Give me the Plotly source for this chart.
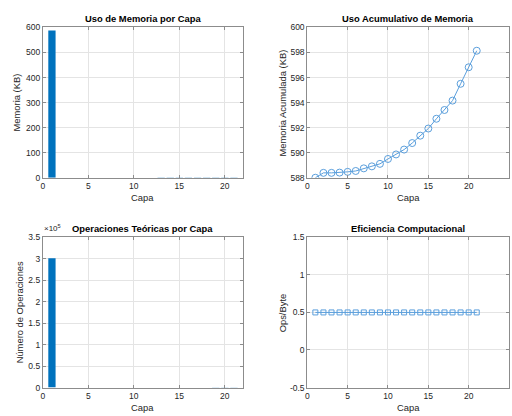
import numpy as np
import plotly.graph_objects as go

# Per-layer statistics of the network
capas = list(range(1, 22))
memoria_kb = [588.0, 0.39, 0.0, 0.02, 0.06, 0.07, 0.21, 0.16, 0.20, 0.39, 0.36,
              0.39, 0.52, 0.59, 0.57, 0.78, 0.70, 0.75, 1.34, 1.32, 1.32]
operaciones = [301056, 200, 0, 10, 31, 36, 108, 82, 102, 200, 184,
               200, 266, 302, 292, 399, 358, 384, 686, 676, 676]
ops_por_byte = [0.5] * 21
memoria_acumulada = np.cumsum(memoria_kb)

ops_ticks = [0, 0.5e5, 1e5, 1.5e5, 2e5, 2.5e5, 3e5, 3.5e5]
ops_ticktext = ["0", "0.5", "1", "1.5", "2", "2.5", "3", "3.5"]

W, H = 512, 416
# near-opaque fill so sub-pixel bars are rounded away instead of widened to 1px
BAR = "rgba(0,114,189,0.999)"
LINE = "#5B9FDC"
AX = "#8C8C8C"
GRID = "#E4E4E4"
TXT = "#262626"
FONT = "Liberation Sans, Arial, sans-serif"
TICK_SIZE = 8.5
LABEL_SIZE = 9.4


def px(x):
    return x / W


def py(y):
    return 1 - y / H


# axes boxes in pixels: (left, right, top, bottom)
boxes = {
    1: (41, 242, 23, 177),
    2: (306.5, 509, 23, 177),
    3: (41, 242, 238, 392),
    4: (306.5, 509, 238, 392),
}

fig = go.Figure()

fig.add_trace(go.Bar(x=capas, y=memoria_kb, width=0.8, marker=dict(color=BAR, line=dict(width=0)),
                     xaxis="x", yaxis="y"))
fig.add_trace(go.Scatter(x=capas, y=memoria_acumulada, mode="lines+markers",
                         line=dict(color=LINE, width=1),
                         marker=dict(symbol="circle-open", size=7, color=LINE, line=dict(width=1)),
                         xaxis="x2", yaxis="y2"))
fig.add_trace(go.Bar(x=capas, y=operaciones, width=0.8, marker=dict(color=BAR, line=dict(width=0)),
                     xaxis="x3", yaxis="y3"))
fig.add_trace(go.Scatter(x=capas, y=ops_por_byte, mode="lines+markers",
                         line=dict(color=LINE, width=1),
                         marker=dict(symbol="square-open", size=5, color=LINE, line=dict(width=1)),
                         xaxis="x4", yaxis="y4"))

common = dict(showline=True, mirror="ticks", linecolor=AX, linewidth=1, ticks="inside", ticklen=3,
              tickcolor=AX, showgrid=True, gridcolor=GRID, gridwidth=1, zeroline=False,
              tickfont=dict(family=FONT, size=TICK_SIZE, color=TXT))

layout = dict(width=W, height=H, margin=dict(l=0, r=0, t=0, b=0), paper_bgcolor="white",
              plot_bgcolor="white", showlegend=False, font=dict(family=FONT, color=TXT))

xranges = {1: [0, 22], 2: [0, 25], 3: [0, 22], 4: [0, 25]}
yaxes_cfg = {
    1: dict(range=[0, 600], tickvals=[0, 100, 200, 300, 400, 500, 600]),
    2: dict(range=[588, 600], tickvals=[588, 590, 592, 594, 596, 598, 600]),
    3: dict(range=[0, 3.5e5], tickvals=ops_ticks, ticktext=ops_ticktext),
    4: dict(range=[-0.5, 1.5], tickvals=[-0.5, 0, 0.5, 1, 1.5], ticktext=["-0.5", "0", "0.5", "1", "1.5"]),
}

for i, (l, r, t, b) in boxes.items():
    sx = "" if i == 1 else str(i)
    layout["xaxis" + sx] = dict(domain=[px(l), px(r)], range=xranges[i], anchor="y" + sx,
                                tickvals=[0, 5, 10, 15, 20, 25][: (5 if xranges[i][1] == 22 else 6)], **common)
    layout["yaxis" + sx] = dict(domain=[py(b), py(t)], anchor="x" + sx, **yaxes_cfg[i], **common)

fig.update_layout(**layout)

titles = {1: "Uso de Memoria por Capa", 2: "Uso Acumulativo de Memoria",
          3: "Operaciones Teóricas por Capa", 4: "Eficiencia Computacional"}
ylabels = {1: ("Memoria (KB)", 15), 2: ("Memoria Acumulada (KB)", 282),
           3: ("Número de Operaciones", 17), 4: ("Ops/Byte", 282)}

for i, (l, r, t, b) in boxes.items():
    fig.add_annotation(text="<b>" + titles[i] + "</b>", x=px((l + r) / 2), y=py(t - 1),
                       xref="paper", yref="paper", xanchor="center", yanchor="bottom",
                       showarrow=False, font=dict(family=FONT, size=LABEL_SIZE, color="#000"))
    fig.add_annotation(text="Capa", x=px((l + r) / 2), y=py(b + 13), xref="paper", yref="paper",
                       xanchor="center", yanchor="top", showarrow=False,
                       font=dict(family=FONT, size=LABEL_SIZE, color=TXT))
    txt, xc = ylabels[i]
    fig.add_annotation(text=txt, x=px(xc), y=py((t + b) / 2), xref="paper", yref="paper",
                       xanchor="center", yanchor="middle", textangle=-90, showarrow=False,
                       font=dict(family=FONT, size=LABEL_SIZE, color=TXT))

# exponent marker for the operations axis
fig.add_annotation(text="×10<sup>5</sup>", x=px(40), y=py(236), xref="paper", yref="paper",
                   xanchor="left", yanchor="bottom", showarrow=False,
                   font=dict(family=FONT, size=8, color=TXT))

fig.write_html("out.html")
